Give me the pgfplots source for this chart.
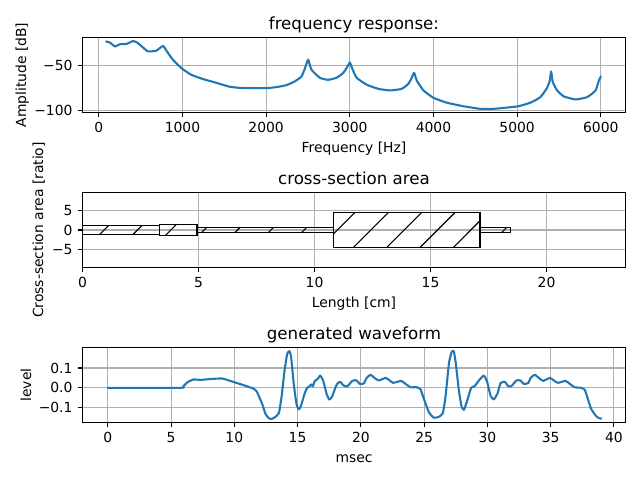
\documentclass[border=0pt]{standalone}
\usepackage{pgfplots}
\pgfplotsset{compat=1.18}
\usepackage{fontspec}
\setmainfont{DejaVu Sans}
\definecolor{mplblue}{HTML}{1F77B4}
\definecolor{mplgrid}{HTML}{B0B0B0}
\pgfplotsset{
  mpl/.style={
    scale only axis, width=390.96bp, height=54bp, anchor=south west,
    grid=major, grid style={mplgrid, line width=0.8bp},
    axis line style={black, line width=0.8bp},
    tick align=outside, tick pos=left, major tick length=3.5bp,
    every tick/.style={black, line width=0.8bp},
    minor tick num=0, scaled ticks=false,
    every tick label/.append style={font=\fontsize{10bp}{12bp}\selectfont},
    tick label style={inner sep=0pt},
    xticklabel style={yshift=-3.5bp, anchor=north},
    yticklabel style={xshift=-3.5bp, anchor=east},
    label style={font=\fontsize{10bp}{12bp}\selectfont},
    title style={font=\fontsize{12bp}{14bp}\selectfont, inner sep=0pt, anchor=base, at={(axis description cs:0.5,1)}, yshift=0bp},
    xlabel style={inner sep=0pt, anchor=base, at={(axis description cs:0.5,0)}, yshift=-29bp},
    ylabel style={inner sep=0pt, anchor=base, at={(axis description cs:0,0.5)}},
  },
  wave/.style={mplblue, line width=1.5bp, line join=round, line cap=round, no markers, smooth, tension=0.3},
  box/.style={black, line width=1bp, no markers, line join=miter},
}
\begin{document}
\begin{tikzpicture}
\path (0,0) rectangle (460.8bp,345.6bp);
\begin{axis}[mpl, at={(59.4bp,264.6bp)},
  xmin=-195, xmax=6295, ymin=-101.9, ymax=-18.6,
  xtick={0,1000,2000,3000,4000,5000,6000},
  xticklabels={0,1000,2000,3000,4000,5000,6000},
  ytick={-100,-50}, yticklabels={−100,−50},
  title={frequency response:}, xlabel={Frequency [Hz]}, ylabel={Amplitude [dB]},
  ylabel style={yshift=40.6bp}]
\addplot[wave] coordinates {
(88,-23)(136,-24.4)(192,-28.5)(255,-26)(335,-25.6)(407,-22.6)(455,-24)(527,-29.6)(587,-34)(686,-33.3)(766,-28)(806,-33)(886,-43.3)(993,-53)(1105,-60)(1245,-64.8)(1404,-68.9)(1564,-73.3)(1724,-74.8)(2003,-74.8)(2123,-73.7)(2242,-71.5)(2342,-67.4)(2422,-61.9)(2462,-53.3)(2502,-43.3)(2542,-54.4)(2641,-63.3)(2741,-65.6)(2841,-63.3)(2921,-58)(2980,-49.6)(3000,-46.3)(3030,-53.3)(3081,-63.3)(3201,-71)(3341,-75.6)(3480,-77.4)(3620,-75.6)(3700,-70)(3740,-63.3)(3768,-57.8)(3800,-66.3)(3880,-77.4)(4000,-85.6)(4160,-91)(4360,-95)(4560,-97.8)(4720,-97.8)(4999,-95.2)(5158,-91)(5278,-84.8)(5358,-74.4)(5390,-66.3)(5406,-56.3)(5426,-68.1)(5478,-77.4)(5557,-84)(5697,-87.4)(5837,-84.8)(5937,-77.4)(5977,-66.3)(6000,-61.9)};
\end{axis}
\begin{axis}[mpl, at={(59.4bp,153bp)},
  xmin=0, xmax=23.405, ymin=-9.615, ymax=9.615,
  xtick={0,5,10,15,20}, xticklabels={0,5,10,15,20},
  ytick={-5,0,5}, yticklabels={−5,0,5},
  title={cross-section area}, xlabel={Length [cm]}, ylabel={Cross-section area [ratio]},
  ylabel style={yshift=28.3bp}]
\addplot[box] coordinates {(0,-1.2)(3.33,-1.2)(3.33,1.2)(0,1.2)(0,-1.2)};
\addplot[box] coordinates {(3.33,-1.45)(4.93,-1.45)(4.93,1.45)(3.33,1.45)(3.33,-1.45)};
\addplot[box] coordinates {(4.93,-0.65)(10.83,-0.65)(10.83,0.65)(4.93,0.65)(4.93,-0.65)};
\addplot[box] coordinates {(10.83,-4.5)(17.14,-4.5)(17.14,4.5)(10.83,4.5)(10.83,-4.5)};
\addplot[box] coordinates {(17.14,-0.57)(18.45,-0.57)(18.45,0.57)(17.14,0.57)(17.14,-0.57)};
\addplot[black, line width=0.8bp, no markers, unbounded coords=jump] coordinates {
(0.731,-1.2)(1.134,1.2)(nan,nan)(2.168,-1.2)(2.571,1.2)(nan,nan)
(3.562,-1.45)(4.050,1.45)(nan,nan)
(5.133,-0.65)(5.352,0.65)(nan,nan)(6.570,-0.65)(6.789,0.65)(nan,nan)(8.007,-0.65)(8.226,0.65)(nan,nan)(9.444,-0.65)(9.663,0.65)(nan,nan)
(10.83,-0.94)(11.746,4.5)(nan,nan)(11.670,-4.5)(13.187,4.5)(nan,nan)(13.107,-4.5)(14.62,4.5)(nan,nan)(14.544,-4.5)(16.057,4.5)(nan,nan)(15.981,-4.5)(17.14,2.41)(nan,nan)
(18.08,-0.57)(18.27,0.57)};
\end{axis}
\begin{axis}[mpl, at={(59.4bp,41.4bp)},
  xmin=-2, xmax=40.92, ymin=-0.175, ymax=0.2035,
  xtick={0,5,10,15,20,25,30,35,40}, xticklabels={0,5,10,15,20,25,30,35,40},
  ytick={-0.1,0,0.1}, yticklabels={−0.1,0.0,0.1},
  title={generated waveform}, xlabel={msec}, ylabel={level},
  ylabel style={yshift=37bp}]
\addplot[wave] coordinates {
(0,0)(5.74,0)(5.96,.008)(6.32,.029)(6.75,.042)(7.33,.040)(8.25,.045)(9.04,.047)(9.57,.037)(9.96,.029)(10.75,.013)(11.54,-.005)(11.8,-.022)(12.2,-.081)(12.46,-.131)(12.72,-.153)(12.91,-.158)(13.17,-.15)(13.52,-.128)(13.73,-.047)(13.97,.087)(14.18,.171)(14.36,.185)(14.49,.155)(14.7,.02)(14.91,-.081)(15.1,-.109)(15.28,-.089)(15.55,-.03)(15.76,0)(15.94,.008)(16.1,.017)(16.2,.007)(16.36,.034)(16.6,.045)(16.78,.062)(17.02,.037)(17.29,-.03)(17.5,-.059)(17.73,-.044)(18,.003)(18.18,.024)(18.39,.03)(18.6,.013)(18.92,.007)(19.31,.034)(19.58,.039)(19.71,.034)(19.92,.02)(20.24,.022)(20.45,.049)(20.76,.066)(21.08,.05)(21.42,.037)(21.95,.05)(22.29,.037)(22.56,.025)(23.19,.035)(23.53,.02)(23.93,.003)(24.4,.003)(24.72,-.008)(24.98,-.055)(25.38,-.123)(25.77,-.151)(26.17,-.146)(26.48,-.128)(26.69,-.047)(26.96,.121)(27.17,.18)(27.35,.185)(27.51,.121)(27.75,-.013)(27.96,-.094)(28.15,-.111)(28.41,-.064)(28.72,0)(28.98,.008)(29.14,.02)(29.33,.037)(29.72,.062)(29.99,.029)(30.25,-.039)(30.51,-.059)(30.81,-.027)(31.04,.024)(31.39,.03)(31.62,.01)(31.89,.008)(32.3,.037)(32.62,.037)(32.88,.02)(33.23,.024)(33.41,.049)(33.73,.066)(34.07,.05)(34.41,.035)(34.94,.05)(35.26,.037)(35.57,.025)(36.18,.035)(36.52,.02)(36.89,.003)(37.41,0)(37.7,-.01)(37.94,-.055)(38.2,-.106)(38.55,-.139)(38.81,-.153)(39,-.155)};
\end{axis}
\end{tikzpicture}
\end{document}
